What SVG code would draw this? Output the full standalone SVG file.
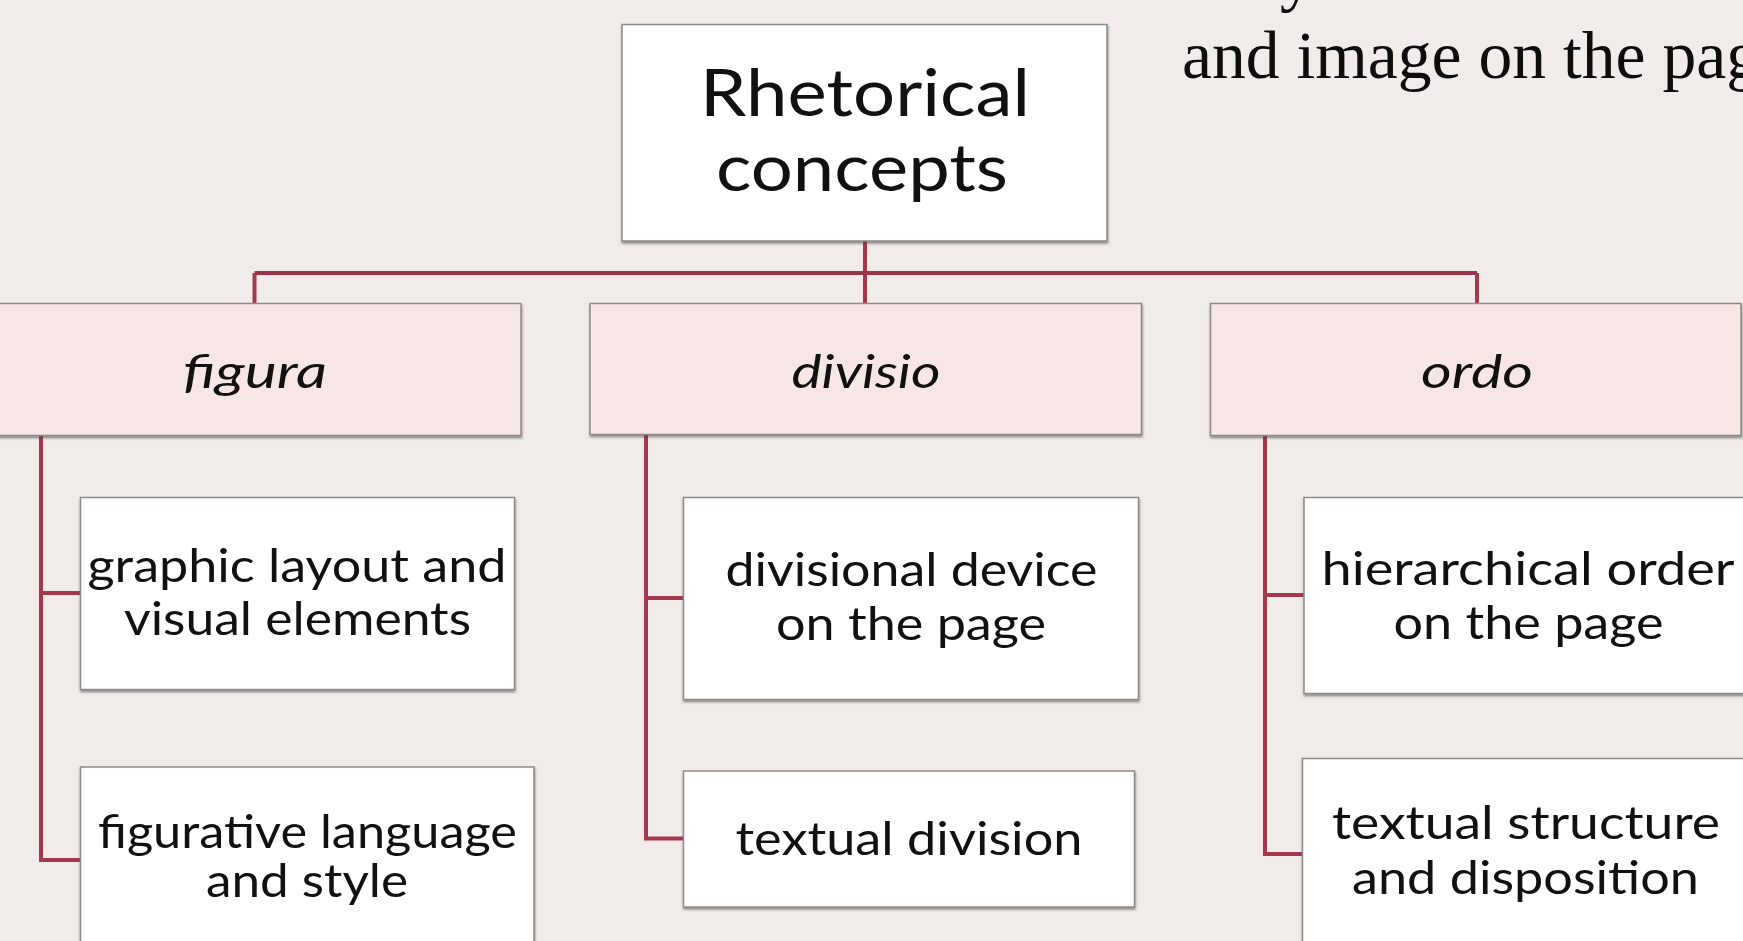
<svg xmlns="http://www.w3.org/2000/svg" width="1743" height="941" viewBox="0 0 1743 941">
  <defs>
    <filter id="shadow" x="-5%" y="-5%" width="110%" height="115%">
      <feDropShadow dx="0.5" dy="2" stdDeviation="1.2" flood-color="#3a3a3a" flood-opacity="0.55"/>
    </filter>
    <style>
      .box { stroke: #8e8a8a; stroke-width: 1.5; filter: url(#shadow); }
      .white { fill: #ffffff; }
      .pink { fill: #f6e6e5; }
      .link { fill: none; stroke: #a5384f; stroke-width: 4; stroke-linejoin: miter; stroke-linecap: butt; }
      .bar { fill: none; stroke: #9a3448; stroke-width: 4; }
      .t { font-family: Lato, "Open Sans", "Liberation Sans", sans-serif; fill: #111111; text-anchor: middle; }
      .root { font-size: 66px; }
      .cat { font-size: 46px; font-style: italic; }
      .leaf { font-size: 46px; }
      .page { font-family: "Liberation Serif", "DejaVu Serif", serif; font-size: 67px; fill: #0d0d0d; }
    </style>
  </defs>

  <!-- page background -->
  <rect x="0" y="0" width="1743" height="941" fill="#f1ece9"/>

  <!-- running body text at the top right -->
  <text class="page" x="1280" y="-1">y</text>
  <text class="page" x="1182" y="78" textLength="578" lengthAdjust="spacingAndGlyphs">and image on the pag</text>

  <!-- connectors -->
  <g id="connectors">
    <path class="link" d="M865,241 V303"/>
    <path class="bar" d="M254.5,273 H1477"/>
    <path class="link" d="M254.5,273 V303.5"/>
    <path class="link" d="M1477,273 V303.5"/>
    <path class="link" d="M41,436 V860 H80.5 M41,593 H80.5"/>
    <path class="link" d="M646,435 V838.5 H683.5 M646,598 H683.5"/>
    <path class="link" d="M1265,436 V854 H1302.5 M1265,595 H1304"/>
  </g>

  <g id="node-root">
    <rect class="box white" x="622" y="24.5" width="485" height="216.5"/>
    <text class="t root" x="865" y="116" textLength="330" lengthAdjust="spacingAndGlyphs">Rhetorical</text>
    <text class="t root" x="862" y="191" textLength="292" lengthAdjust="spacingAndGlyphs">concepts</text>
  </g>

  <g id="node-figura">
    <rect class="box pink" x="-12" y="303.5" width="533" height="132"/>
    <text class="t cat" x="255" y="388" textLength="144" lengthAdjust="spacingAndGlyphs">figura</text>
  </g>

  <g id="node-divisio">
    <rect class="box pink" x="590" y="303.5" width="551.5" height="131"/>
    <text class="t cat" x="866" y="388" textLength="149" lengthAdjust="spacingAndGlyphs">divisio</text>
  </g>

  <g id="node-ordo">
    <rect class="box pink" x="1210.5" y="303.5" width="530.5" height="132"/>
    <text class="t cat" x="1477" y="388" textLength="112" lengthAdjust="spacingAndGlyphs">ordo</text>
  </g>

  <g id="node-graphic-layout">
    <rect class="box white" x="80.5" y="497.5" width="434" height="192"/>
    <text class="t leaf" x="297" y="582" textLength="419" lengthAdjust="spacingAndGlyphs">graphic layout and</text>
    <text class="t leaf" x="297.5" y="635" textLength="347" lengthAdjust="spacingAndGlyphs">visual elements</text>
  </g>

  <g id="node-figurative-language">
    <rect class="box white" x="80.5" y="767" width="453.5" height="200"/>
    <text class="t leaf" x="307.5" y="848" textLength="419" lengthAdjust="spacingAndGlyphs">figurative language</text>
    <text class="t leaf" x="307" y="897" textLength="202" lengthAdjust="spacingAndGlyphs">and style</text>
  </g>

  <g id="node-divisional-device">
    <rect class="box white" x="683.5" y="497.5" width="455" height="202"/>
    <text class="t leaf" x="911.5" y="586" textLength="372" lengthAdjust="spacingAndGlyphs">divisional device</text>
    <text class="t leaf" x="911" y="640" textLength="270" lengthAdjust="spacingAndGlyphs">on the page</text>
  </g>

  <g id="node-textual-division">
    <rect class="box white" x="683.5" y="771" width="451" height="136"/>
    <text class="t leaf" x="909" y="854.5" textLength="347" lengthAdjust="spacingAndGlyphs">textual division</text>
  </g>

  <g id="node-hierarchical-order">
    <rect class="box white" x="1304" y="497.5" width="460" height="196"/>
    <text class="t leaf" x="1528" y="585" textLength="413" lengthAdjust="spacingAndGlyphs">hierarchical order</text>
    <text class="t leaf" x="1528.5" y="639" textLength="270" lengthAdjust="spacingAndGlyphs">on the page</text>
  </g>

  <g id="node-textual-structure">
    <rect class="box white" x="1302.5" y="758.5" width="460" height="220"/>
    <text class="t leaf" x="1526" y="839" textLength="388" lengthAdjust="spacingAndGlyphs">textual structure</text>
    <text class="t leaf" x="1525.5" y="894" textLength="347" lengthAdjust="spacingAndGlyphs">and disposition</text>
  </g>
</svg>
